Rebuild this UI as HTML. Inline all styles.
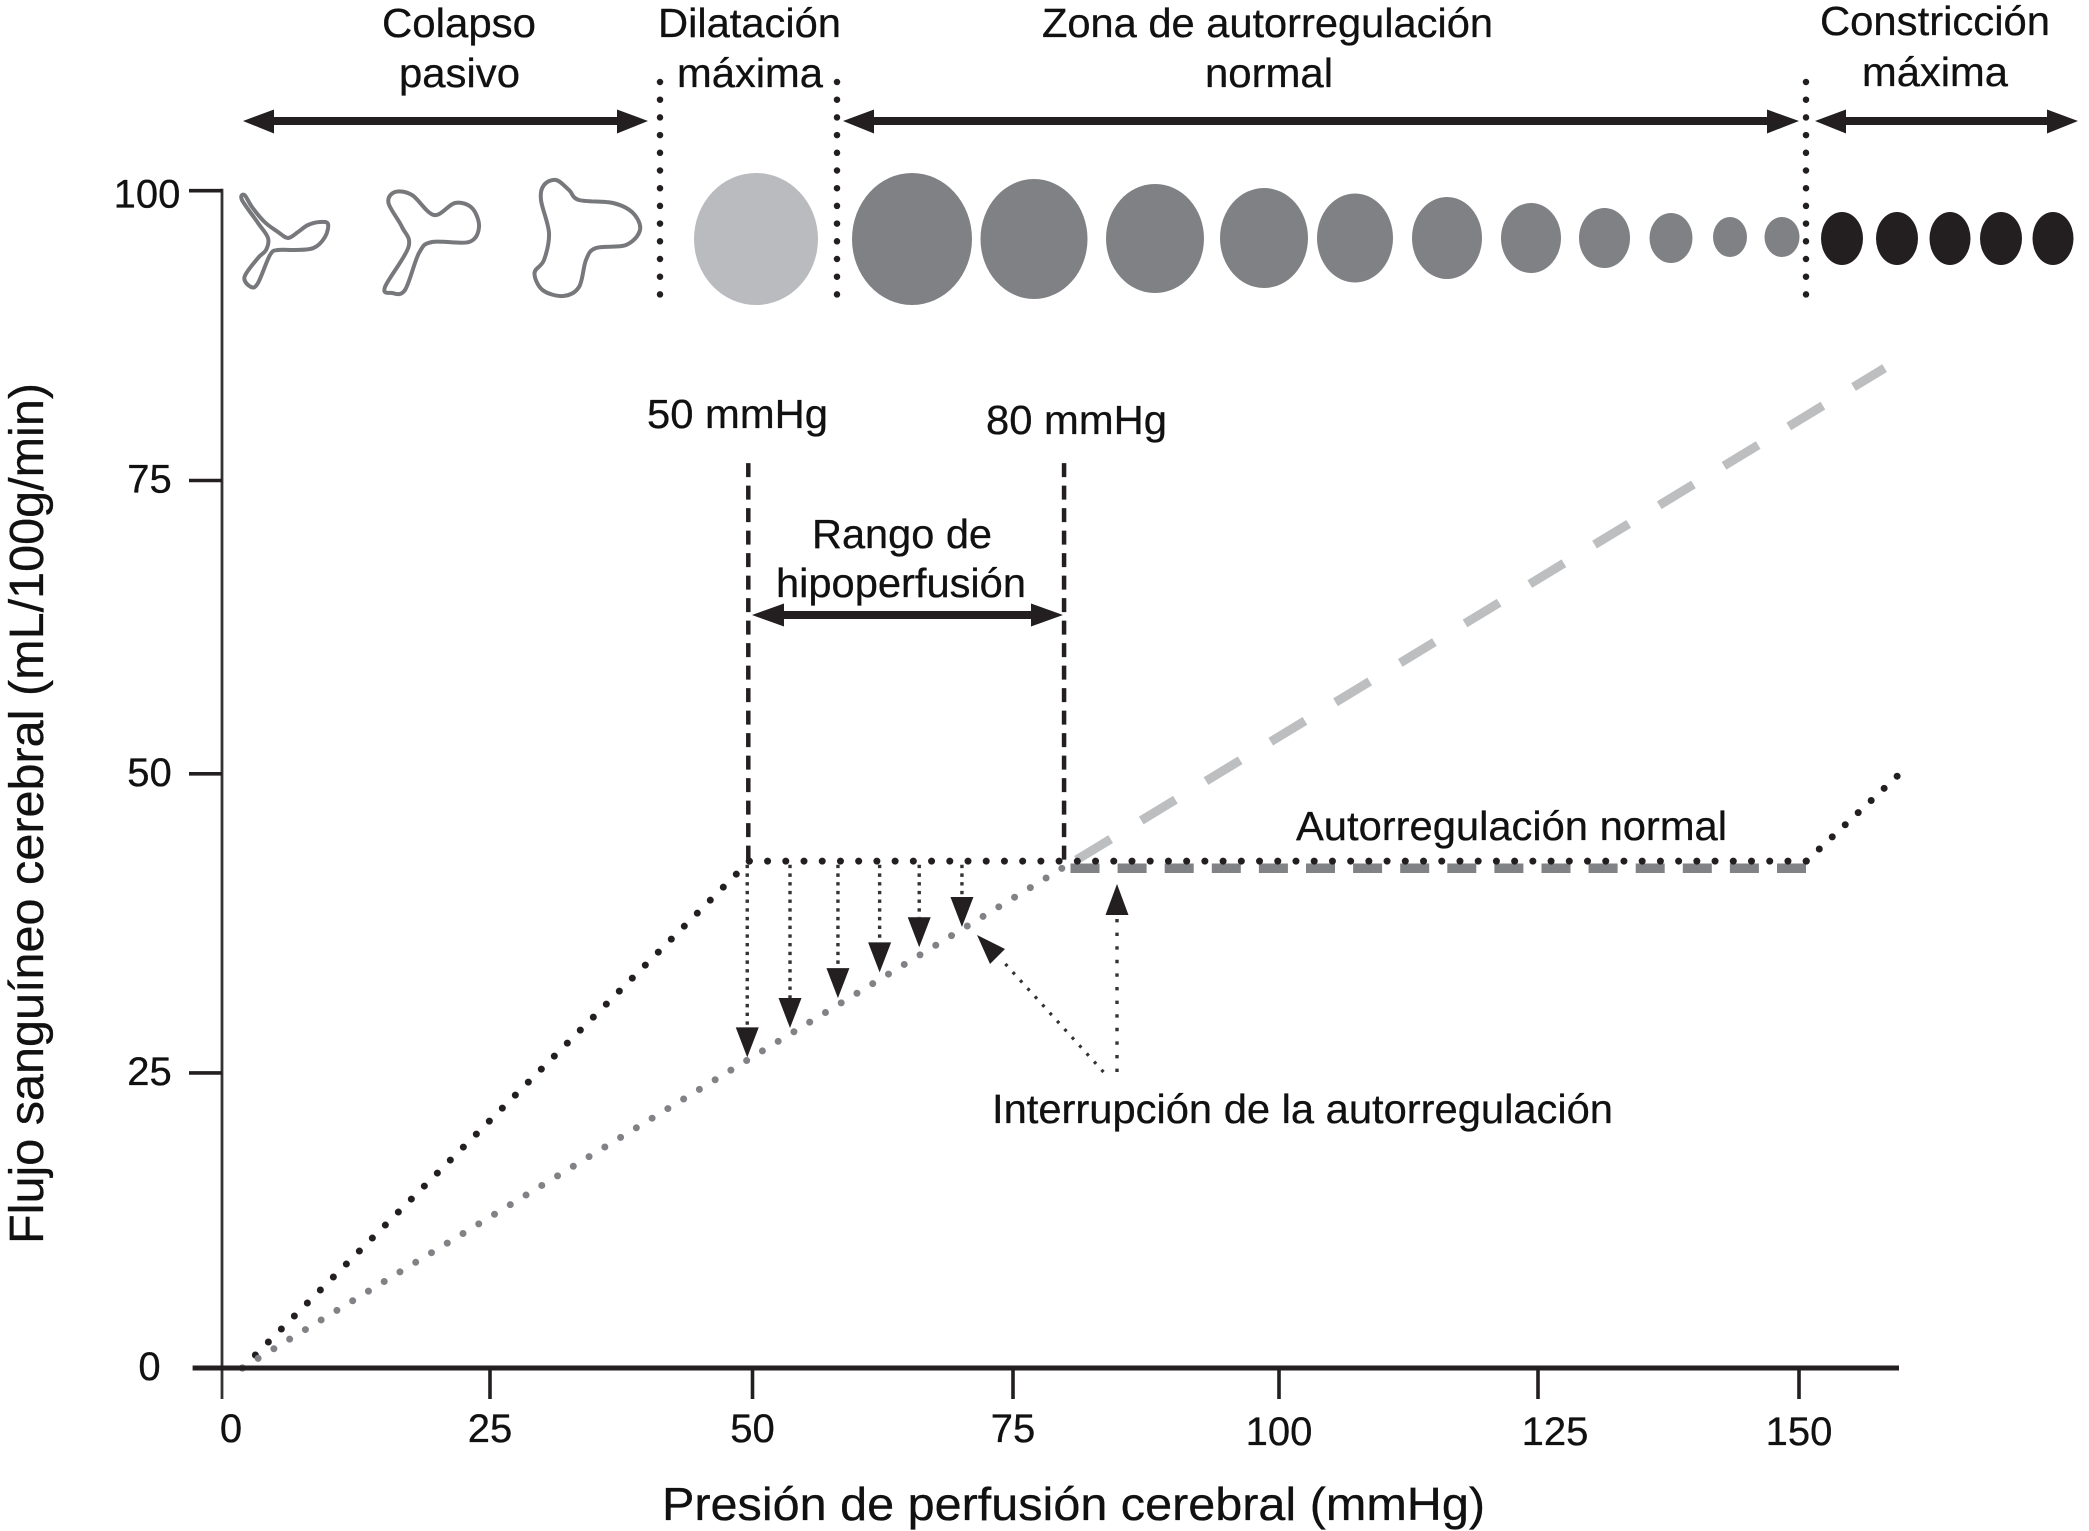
<!DOCTYPE html>
<html lang="es">
<head>
<meta charset="utf-8">
<title>Autorregulación del flujo sanguíneo cerebral</title>
<style>
  html, body { margin: 0; padding: 0; background: #fff; }
  svg { display: block; }
  text { font-family: "Liberation Sans", sans-serif; fill: #111; font-size: 41px; stroke: #111; stroke-width: 0.3px; }
</style>
</head>
<body>
<svg id="chart" xmlns="http://www.w3.org/2000/svg" width="2089" height="1531" viewBox="0 0 2089 1531">
  <rect x="0" y="0" width="2089" height="1531" fill="#fff"/>

  <!-- Zone headers -->
  <g>
    <text x="382" y="37" textLength="154" lengthAdjust="spacingAndGlyphs">Colapso</text>
    <text x="399" y="87" textLength="121" lengthAdjust="spacingAndGlyphs">pasivo</text>
    <text x="658" y="37" textLength="183" lengthAdjust="spacingAndGlyphs">Dilatación</text>
    <text x="677" y="87" textLength="146" lengthAdjust="spacingAndGlyphs">máxima</text>
    <text x="1042" y="37" textLength="451" lengthAdjust="spacingAndGlyphs">Zona de autorregulación</text>
    <text x="1205" y="87" textLength="128" lengthAdjust="spacingAndGlyphs">normal</text>
    <text x="1820" y="35" textLength="230" lengthAdjust="spacingAndGlyphs">Constricción</text>
    <text x="1862" y="86" textLength="146" lengthAdjust="spacingAndGlyphs">máxima</text>
  </g>

  <!-- Zone dividers -->
  <g stroke="#231f20" stroke-width="6.5" stroke-linecap="round" stroke-dasharray="0 17.7" fill="none">
    <line x1="660" y1="82" x2="660" y2="296"/>
    <line x1="837" y1="82" x2="837" y2="296"/>
    <line x1="1806" y1="82" x2="1806" y2="296"/>
  </g>

  <!-- Zone arrows -->
  <g fill="#231f20" stroke="none">
    <g>
      <rect x="270" y="117" width="350" height="8"/>
      <polygon points="243,121 274,109.5 274,133.5"/>
      <polygon points="648,121 617,109.5 617,133.5"/>
    </g>
    <g>
      <rect x="870" y="117" width="902" height="8"/>
      <polygon points="843,121 874,109.5 874,133.5"/>
      <polygon points="1799,121 1767,109.5 1767,133.5"/>
    </g>
    <g>
      <rect x="1840" y="117" width="212" height="8"/>
      <polygon points="1815,121 1846,109.5 1846,133.5"/>
      <polygon points="2078,121 2047,109.5 2047,133.5"/>
    </g>
  </g>

  <!-- Vessel outlines -->
  <g fill="none" stroke="#77787b" stroke-width="4" stroke-linejoin="round">
    <path class="blob" data-pts="244.5,195 252,207 264.6,222 278,232 288,238 298,232 308,225 320,222 328,224 325,237 313.5,248 295,250 278,250 270,255 258,283 251,287 244.5,277 258,258 266,250 268,238 258,223 242,200"/>
    <path class="blob" data-pts="395,192 412,195 434,215 455,203 472,208 479,227 469,242 432,242 419,253 405,290 392,293 385,287 408.5,247 402,227 388.5,203"/>
    <path class="blob" data-pts="556,180 569,190 579,200 613,203 633,213 640,230 626,245 596,248 586,260 579,287 563,296 542.5,290 534.5,273 544,260 549,233 541,200 544,185"/>
  </g>

  <!-- Vessel ellipses -->
  <g>
    <ellipse cx="756" cy="239" rx="62" ry="66" fill="#b9bbbe"/>
    <g fill="#7f8184">
      <ellipse cx="912" cy="239" rx="60" ry="66"/>
      <ellipse cx="1034" cy="239" rx="53.5" ry="60"/>
      <ellipse cx="1155" cy="238.5" rx="49" ry="54.5"/>
      <ellipse cx="1264" cy="238" rx="44" ry="50"/>
      <ellipse cx="1355" cy="238" rx="38" ry="44.5"/>
      <ellipse cx="1447" cy="238" rx="35" ry="41"/>
      <ellipse cx="1531" cy="238" rx="30" ry="35"/>
      <ellipse cx="1604.5" cy="238" rx="25.5" ry="30"/>
      <ellipse cx="1671" cy="238" rx="21.5" ry="25"/>
      <ellipse cx="1730" cy="237" rx="17" ry="20"/>
      <ellipse cx="1782" cy="237" rx="17.5" ry="20"/>
    </g>
    <g fill="#231f20">
      <ellipse cx="1842" cy="238.5" rx="21" ry="26.5"/>
      <ellipse cx="1897" cy="238.5" rx="21" ry="26.5"/>
      <ellipse cx="1950" cy="238.5" rx="20.5" ry="26.5"/>
      <ellipse cx="2001" cy="238.5" rx="21" ry="26.5"/>
      <ellipse cx="2053" cy="238.5" rx="20.5" ry="26.5"/>
    </g>
  </g>

  <!-- Axis titles -->
  <text transform="translate(43,1244) rotate(-90)" x="0" y="0" style="font-size:48px" textLength="861" lengthAdjust="spacingAndGlyphs">Flujo sanguíneo cerebral (mL/100g/min)</text>
  <text x="662" y="1520" style="font-size:46px" textLength="823" lengthAdjust="spacingAndGlyphs">Presión de perfusión cerebral (mmHg)</text>

  <!-- Annotations -->
  <g>
    <text x="647" y="428" textLength="181" lengthAdjust="spacingAndGlyphs">50 mmHg</text>
    <text x="986" y="434" textLength="181" lengthAdjust="spacingAndGlyphs">80 mmHg</text>
    <text x="812" y="548" textLength="180" lengthAdjust="spacingAndGlyphs">Rango de</text>
    <text x="776" y="597" textLength="250" lengthAdjust="spacingAndGlyphs">hipoperfusión</text>
    <text x="1296" y="840" textLength="431" lengthAdjust="spacingAndGlyphs">Autorregulación normal</text>
    <text x="992" y="1123" textLength="621" lengthAdjust="spacingAndGlyphs">Interrupción de la autorregulación</text>
    <g fill="#231f20">
      <rect x="780" y="611" width="256" height="8"/>
      <polygon points="752,615 784,603.5 784,626.5"/>
      <polygon points="1063,615 1031,603.5 1031,626.5"/>
    </g>
    <g>
      <line x1="1103.5" y1="1072" x2="1000" y2="958" stroke="#333" stroke-width="3.2" stroke-dasharray="3 8"/>
      <polygon points="977,935 1005,949 990,964" fill="#231f20"/>
      <line x1="1117" y1="1072" x2="1117" y2="915" stroke="#333" stroke-width="3.4" stroke-dasharray="3.4 10.2"/>
      <polygon points="1117,884 1105.5,915 1128.5,915" fill="#231f20"/>
    </g>
  </g>

  <g id="plot"></g>
</svg>

<script>
// ---- chart values ----
const xTickValues = [0, 25, 50, 75, 100, 125, 150];
const yTickValues = [0, 25, 50, 75, 100];

const normalPressure = [1.9, 49.7, 150.7, 159.4];
const normalFlow = [0, 42.7, 42.7, 49.8];

const passivePressure = [1.9, 79.6];
const passiveFlow = [0, 42.1];

const unregulatedPressure = [80.97, 158.2];
const unregulatedFlow = [42.8, 84.7];

const plateauPressure = [80.4, 150.7];
const plateauFlow = [42.1, 42.1];

const thresholdPressures = [49.6, 79.8];
const thresholdTopFlow = 76.5;

const dropPressure = [49.5, 53.6, 58.2, 62.2, 66, 70.1];
const dropStartFlow = [42.4, 42.4, 42.4, 42.4, 42.4, 42.4];
const dropEndFlow = [26.3, 28.75, 31.25, 33.4, 35.5, 37.2];

// ---- axis functions ----
function piecewise(domain, range) {
  return function (v) {
    let i = 0;
    while (i < domain.length - 2 && v > domain[i + 1]) i++;
    const t = (v - domain[i]) / (domain[i + 1] - domain[i]);
    return range[i] + t * (range[i + 1] - range[i]);
  };
}
const xScale = piecewise(xTickValues, [222, 490, 752.5, 1013, 1279, 1538, 1799]);
const yScale = piecewise(yTickValues, [1368, 1072.9, 773.8, 480.5, 190.7]);

const NS = 'http://www.w3.org/2000/svg';
const plot = document.getElementById('plot');
function make(tag, attrs, parent) {
  const node = document.createElementNS(NS, tag);
  for (const k in attrs) node.setAttribute(k, attrs[k]);
  (parent || plot).appendChild(node);
  return node;
}
function pathOf(xs, ys) {
  return xs.map((x, i) => (i ? 'L' : 'M') + xScale(x).toFixed(1) + ' ' + yScale(ys[i]).toFixed(1)).join(' ');
}

// vessel outlines: smooth closed curve through the listed points
document.querySelectorAll('.blob').forEach(function (p) {
  const pts = p.getAttribute('data-pts').split(' ').map(s => s.split(',').map(Number));
  const n = pts.length;
  let d = 'M' + pts[0][0] + ' ' + pts[0][1];
  for (let i = 0; i < n; i++) {
    const p0 = pts[(i - 1 + n) % n], p1 = pts[i], p2 = pts[(i + 1) % n], p3 = pts[(i + 2) % n];
    const c1x = p1[0] + (p2[0] - p0[0]) / 6, c1y = p1[1] + (p2[1] - p0[1]) / 6;
    const c2x = p2[0] - (p3[0] - p1[0]) / 6, c2y = p2[1] - (p3[1] - p1[1]) / 6;
    d += ' C' + c1x.toFixed(1) + ' ' + c1y.toFixed(1) + ' ' + c2x.toFixed(1) + ' ' + c2y.toFixed(1) + ' ' + p2[0] + ' ' + p2[1];
  }
  p.setAttribute('d', d + ' Z');
});

// ---- series ----
const lightLine = make('path', { d: pathOf(unregulatedPressure, unregulatedFlow), fill: 'none', stroke: '#bcbec0', 'stroke-width': 9, 'stroke-dasharray': '40 35.8' });



const plateauLine = make('path', { d: pathOf(plateauPressure, plateauFlow), fill: 'none', stroke: '#808285', 'stroke-width': 9.5, 'stroke-dasharray': '29 18.1' });



// dotted segments: each segment gets a whole number of dots so corners land on a dot
function dottedSegments(xs, ys, color, name) {
  for (let i = 0; i < xs.length - 1; i++) {
    const x1 = xScale(xs[i]), y1 = yScale(ys[i]), x2 = xScale(xs[i + 1]), y2 = yScale(ys[i + 1]);
    const len = Math.hypot(x2 - x1, y2 - y1);
    const gap = len / Math.round(len / 18.3) - 0.002;
    const seg = make('line', { x1: x1, y1: y1, x2: x2, y2: y2, stroke: color, 'stroke-width': 7, 'stroke-linecap': 'round', 'stroke-dasharray': '0 ' + gap.toFixed(3) });
    
    
  }
}
dottedSegments(normalPressure, normalFlow, '#231f20', 'series-normal-autoregulation-dotted');
dottedSegments(passivePressure, passiveFlow, '#808285', 'series-impaired-autoregulation-dotted');

// threshold lines
thresholdPressures.forEach(function (p) {
  const line = make('line', { x1: xScale(p), x2: xScale(p), y1: yScale(thresholdTopFlow), y2: yScale(normalFlow[1]), stroke: '#231f20', 'stroke-width': 4.5, 'stroke-dasharray': '14 8.5' });
  
  
});

// drop arrows
dropPressure.forEach(function (p, i) {
  const x = xScale(p);
  const tip = yScale(dropEndFlow[i]);
  const shaft = make('line', { x1: x, x2: x, y1: yScale(dropStartFlow[i]), y2: tip - 30, stroke: '#333', 'stroke-width': 3.4, 'stroke-dasharray': '3.4 5.3' });
  
  
  const head = make('polygon', { points: [[x, tip], [x - 11.5, tip - 30], [x + 11.5, tip - 30]].map(a => a.join(',')).join(' '), fill: '#231f20' });
  
  
});

// ---- axes ----
const yAxisLine = make('line', { x1: 222, x2: 222, y1: yScale(100) - 2, y2: 1399, stroke: '#333', 'stroke-width': 2.8 });



const xAxisLine = make('line', { x1: 192.6, x2: 1899, y1: yScale(0), y2: yScale(0), stroke: '#231f20', 'stroke-width': 5 });



xTickValues.forEach(function (v) {
  if (v !== 0) {
    const tick = make('line', { x1: xScale(v), x2: xScale(v), y1: yScale(0), y2: 1399, stroke: '#231f20', 'stroke-width': 3.6 });
    
    
  }
  const nudge = v === 0 ? 9 : (v === 125 ? 17 : 0);
  const label = make('text', { x: xScale(v) + nudge, y: v >= 100 ? 1445 : 1442, 'text-anchor': 'middle' });
  label.style.fontSize = '40px';
  label.textContent = String(v);
  
  
});

yTickValues.forEach(function (v) {
  if (v !== 0) {
    const tick = make('line', { x1: 189, x2: 222, y1: yScale(v), y2: yScale(v), stroke: '#231f20', 'stroke-width': 3.6 });
    
    
  }
  const label = make('text', { x: v === 100 ? 147 : 149.5, y: yScale(v) + (v === 100 ? 17 : 12), 'text-anchor': 'middle' });
  label.style.fontSize = '40px';
  label.textContent = String(v);
  
  
});
</script>
</body>
</html>
